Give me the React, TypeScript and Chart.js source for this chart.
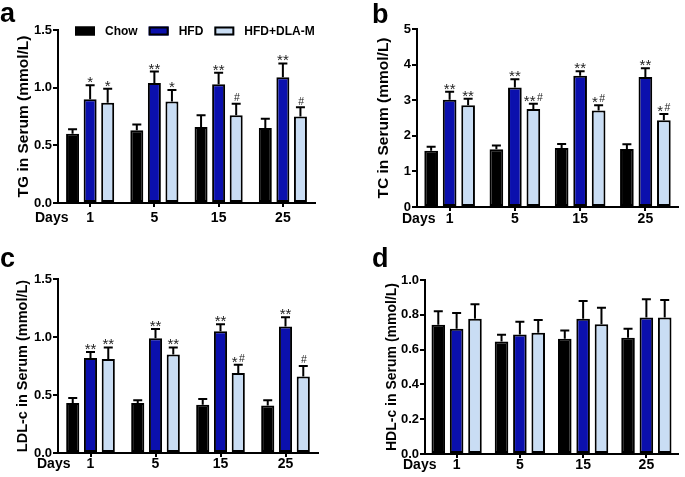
import React, { useEffect, useRef } from "react";
import { Chart, registerables } from "chart.js";

Chart.register(...registerables);

const FONT = "'Liberation Sans', Arial, Helvetica, sans-serif";
Chart.defaults.font.family = FONT;

// ---------- data ----------
const days = ["1", "5", "15", "25"];
const groupNames = ["Chow", "HFD", "HFD+DLA-M"];
const groupColors = ["#000000", "#0b10ad", "#c9ddf4"];

// TG (mmol/L): means and SEM
const tgChow = [0.60, 0.63, 0.66, 0.65];
const tgChowSem = [0.04, 0.05, 0.10, 0.08];
const tgHfd = [0.90, 1.04, 1.03, 1.09];
const tgHfdSem = [0.12, 0.10, 0.10, 0.12];
const tgDla = [0.87, 0.88, 0.76, 0.75];
const tgDlaSem = [0.12, 0.10, 0.10, 0.08];
const tgHfdSig = ["*", "**", "**", "**"];
const tgDlaSig = ["*", "*", "#", "#"];
const tgTicks = [0, 0.5, 1.0, 1.5];

// TC
const tcChow = [1.58, 1.62, 1.66, 1.63];
const tcChowSem = [0.11, 0.11, 0.11, 0.13];
const tcHfd = [3.01, 3.36, 3.69, 3.65];
const tcHfdSem = [0.23, 0.23, 0.12, 0.25];
const tcDla = [2.86, 2.75, 2.71, 2.44];
const tcDlaSem = [0.18, 0.15, 0.15, 0.17];
const tcHfdSig = ["**", "**", "**", "**"];
const tcDlaSig = ["**", "**#", "*#", "*#"];
const tcTicks = [0, 1, 2, 3, 4, 5];

// LDL-c
const ldlChow = [0.43, 0.43, 0.415, 0.41];
const ldlChowSem = [0.045, 0.025, 0.05, 0.045];
const ldlHfd = [0.82, 0.99, 1.05, 1.09];
const ldlHfdSem = [0.05, 0.08, 0.06, 0.08];
const ldlDla = [0.81, 0.85, 0.69, 0.66];
const ldlDlaSem = [0.10, 0.06, 0.07, 0.09];
const ldlHfdSig = ["**", "**", "**", "**"];
const ldlDlaSig = ["**", "**", "*#", "#"];
const ldlTicks = [0, 0.5, 1.0, 1.5];

// HDL-c
const hdlChow = [0.743, 0.647, 0.662, 0.668];
const hdlChowSem = [0.077, 0.038, 0.048, 0.052];
const hdlHfd = [0.72, 0.687, 0.778, 0.784];
const hdlHfdSem = [0.09, 0.073, 0.102, 0.106];
const hdlDla = [0.778, 0.697, 0.745, 0.784];
const hdlDlaSem = [0.082, 0.073, 0.095, 0.101];
const hdlTicks = [0, 0.2, 0.4, 0.6, 0.8, 1.0];

// ---------- panel layout ----------
type PanelCfg = {
  letter: string;
  letterX: number;
  letterY: number;
  left: number;
  top: number;
  w: number;
  h: number;
  yWidth: number;
  xHeight: number;
  padTop: number;
  padRight: number;
  xTickPad: number;
  catPct: number;
  title: string;
  titleSize: number;
  titlePad: number;
  ticks: number[];
  decimals: number;
  daysX: number;
  legend: boolean;
  means: number[][];
  sems: number[][];
  sigs: string[][];
};

const panels: PanelCfg[] = [
  {
    letter: "a", letterX: 0, letterY: 22,
    left: 0, top: 0, w: 342, h: 238,
    yWidth: 58, xHeight: 35, padTop: 30, padRight: 27, xTickPad: 4, catPct: 0.82,
    title: "TG in Serum (mmol/L)", titleSize: 15.5, titlePad: 14,
    ticks: tgTicks, decimals: 1, daysX: 35, legend: true,
    means: [tgChow, tgHfd, tgDla], sems: [tgChowSem, tgHfdSem, tgDlaSem],
    sigs: [[], tgHfdSig, tgDlaSig],
  },
  {
    letter: "b", letterX: 30, letterY: 23,
    left: 342, top: 0, w: 343, h: 238,
    yWidth: 75, xHeight: 31, padTop: 29, padRight: 7, xTickPad: 1, catPct: 0.85,
    title: "TC in Serum (mmol/L)", titleSize: 15.5, titlePad: 32,
    ticks: tcTicks, decimals: 0, daysX: 60, legend: false,
    means: [tcChow, tcHfd, tcDla], sems: [tcChowSem, tcHfdSem, tcDlaSem],
    sigs: [[], tcHfdSig, tcDlaSig],
  },
  {
    letter: "c", letterX: 0, letterY: 29,
    left: 0, top: 238, w: 342, h: 239,
    yWidth: 58, xHeight: 24, padTop: 41, padRight: 24, xTickPad: 0.5, catPct: 0.82,
    title: "LDL-c in Serum (mmol/L)", titleSize: 14.5, titlePad: 14,
    ticks: ldlTicks, decimals: 1, daysX: 37, legend: false,
    means: [ldlChow, ldlHfd, ldlDla], sems: [ldlChowSem, ldlHfdSem, ldlDlaSem],
    sigs: [[], ldlHfdSig, ldlDlaSig],
  },
  {
    letter: "d", letterX: 30, letterY: 29,
    left: 342, top: 238, w: 343, h: 239,
    yWidth: 83, xHeight: 23, padTop: 42, padRight: 7, xTickPad: 0, catPct: 0.87,
    title: "HDL-c in Serum (mmol/L)", titleSize: 14, titlePad: 42,
    ticks: hdlTicks, decimals: 1, daysX: 61, legend: false,
    means: [hdlChow, hdlHfd, hdlDla], sems: [hdlChowSem, hdlHfdSem, hdlDlaSem],
    sigs: [[], [], []],
  },
];

// ---------- plugins ----------
function drawSig(ctx: CanvasRenderingContext2D, s: string, cx: number, cy: number) {
  const starFont = `15px ${FONT}`;
  const hashFont = `10.5px ${FONT}`;
  const parts = s.split("");
  const widths = parts.map((ch) => {
    ctx.font = ch === "#" ? hashFont : starFont;
    return ctx.measureText(ch).width + (ch === "#" ? 1.5 : 0);
  });
  const total = widths.reduce((a, b) => a + b, 0);
  let x = cx - total / 2;
  ctx.fillStyle = "#222";
  ctx.textAlign = "left";
  ctx.textBaseline = "alphabetic";
  parts.forEach((ch, k) => {
    if (ch === "#") {
      ctx.font = hashFont;
      ctx.fillText(ch, x + 1.5, cy + 3.8);
    } else {
      ctx.font = starFont;
      ctx.fillText(ch, x, cy + 8.5);
    }
    x += widths[k];
  });
}

const errorBarPlugin = {
  id: "errorBars",
  afterDatasetsDraw(chart: any) {
    const ctx = chart.ctx as CanvasRenderingContext2D;
    const yScale = chart.scales.y;
    chart.data.datasets.forEach((ds: any, i: number) => {
      const meta = chart.getDatasetMeta(i);
      meta.data.forEach((el: any, j: number) => {
        const v = ds.data[j];
        const e = ds.sem[j];
        const yTop = yScale.getPixelForValue(v + e);
        const x = el.x;
        ctx.save();
        ctx.strokeStyle = "#000";
        ctx.lineWidth = 2;
        ctx.beginPath();
        ctx.moveTo(x, el.y);
        ctx.lineTo(x, yTop);
        ctx.moveTo(x - 4.5, yTop);
        ctx.lineTo(x + 4.5, yTop);
        ctx.stroke();
        const s = ds.sig && ds.sig[j];
        if (s) drawSig(ctx, s, x, yTop - 6.5);
        ctx.restore();
      });
    });
  },
};

const extrasPlugin = {
  id: "extras",
  afterDraw(chart: any, _args: any, opts: any) {
    const ctx = chart.ctx as CanvasRenderingContext2D;
    const area = chart.chartArea;
    ctx.save();
    // panel letter
    ctx.fillStyle = "#000";
    ctx.font = `bold 27px ${FONT}`;
    ctx.textAlign = "left";
    ctx.textBaseline = "alphabetic";
    ctx.fillText(opts.letter, opts.letterX, opts.letterY);
    // "Days" label on the tick-label row
    ctx.font = `bold 14px ${FONT}`;
    ctx.textBaseline = "middle";
    ctx.fillText("Days", opts.daysX, area.bottom + 4 + opts.xTickPad + 7);
    // legend
    if (opts.legend) {
      let x = area.left + 17;
      const yc = area.top + 1;
      ctx.font = `bold 12px ${FONT}`;
      chart.data.datasets.forEach((ds: any) => {
        ctx.fillStyle = ds.backgroundColor;
        ctx.fillRect(x, yc - 4.5, 20, 9);
        ctx.strokeStyle = "#000";
        ctx.lineWidth = 2;
        ctx.strokeRect(x + 1, yc - 3.5, 18, 7);
        ctx.fillStyle = "#000";
        ctx.textBaseline = "middle";
        ctx.fillText(ds.label, x + 30, yc + 0.5);
        x += 30 + ctx.measureText(ds.label).width + 11;
      });
    }
    ctx.restore();
  },
};

function buildConfig(p: PanelCfg): any {
  const datasets = groupNames.map((name, i) => ({
    label: name,
    data: p.means[i],
    sem: p.sems[i],
    sig: p.sigs[i],
    backgroundColor: groupColors[i],
    borderColor: "#000",
    borderWidth: 2,
    borderSkipped: false,
    barPercentage: 0.74,
    categoryPercentage: p.catPct,
  }));
  const tickFont = { family: FONT, size: 14, weight: "bold", lineHeight: 1 };
  return {
    type: "bar",
    data: { labels: days, datasets },
    options: {
      responsive: false,
      animation: false,
      events: [],
      layout: { padding: { top: p.padTop, right: p.padRight, left: 0, bottom: 0 } },
      plugins: {
        legend: { display: false },
        tooltip: { enabled: false },
        extras: {
          letter: p.letter,
          letterX: p.letterX,
          letterY: p.letterY,
          daysX: p.daysX,
          xTickPad: p.xTickPad,
          legend: p.legend,
        },
      },
      scales: {
        x: {
          offset: true,
          grid: {
            display: true,
            drawOnChartArea: false,
            offset: false,
            tickLength: 4,
            lineWidth: 2,
            color: "#000",
          },
          border: { display: true, color: "#000", width: 2 },
          ticks: { font: tickFont, color: "#000", padding: p.xTickPad, maxRotation: 0, autoSkip: false },
          afterFit: (s: any) => {
            s.height = p.xHeight;
          },
        },
        y: {
          min: p.ticks[0],
          max: p.ticks[p.ticks.length - 1],
          grid: {
            display: true,
            drawOnChartArea: false,
            tickLength: 5,
            lineWidth: 2,
            color: "#000",
          },
          border: { display: true, color: "#000", width: 2 },
          ticks: {
            font: { family: FONT, size: 13, weight: "bold" },
            color: "#000",
            padding: 1,
            callback: (v: any) => Number(v).toFixed(p.decimals),
          },
          afterBuildTicks: (s: any) => {
            s.ticks = p.ticks.map((v) => ({ value: v }));
          },
          afterFit: (s: any) => {
            s.width = p.yWidth;
          },
          title: {
            display: true,
            text: p.title,
            color: "#000",
            font: { family: FONT, size: p.titleSize, weight: "bold" },
            padding: { top: p.titlePad, bottom: 0 },
          },
        },
      },
    },
    plugins: [errorBarPlugin, extrasPlugin],
  };
}

function Panel({ cfg }: { cfg: PanelCfg }) {
  const ref = useRef<HTMLCanvasElement>(null);
  useEffect(() => {
    if (!ref.current) return;
    const chart = new Chart(ref.current, buildConfig(cfg));
    return () => chart.destroy();
  }, [cfg]);
  return (
    <canvas
      ref={ref}
      width={cfg.w}
      height={cfg.h}
      style={{ position: "absolute", left: cfg.left, top: cfg.top, width: cfg.w, height: cfg.h }}
    />
  );
}

export default function App() {
  return (
    <div
      style={{
        position: "absolute",
        left: 0,
        top: 0,
        width: 685,
        height: 477,
        background: "#fff",
        overflow: "hidden",
      }}
    >
      {panels.map((p) => (
        <Panel key={p.letter} cfg={p} />
      ))}
    </div>
  );
}
